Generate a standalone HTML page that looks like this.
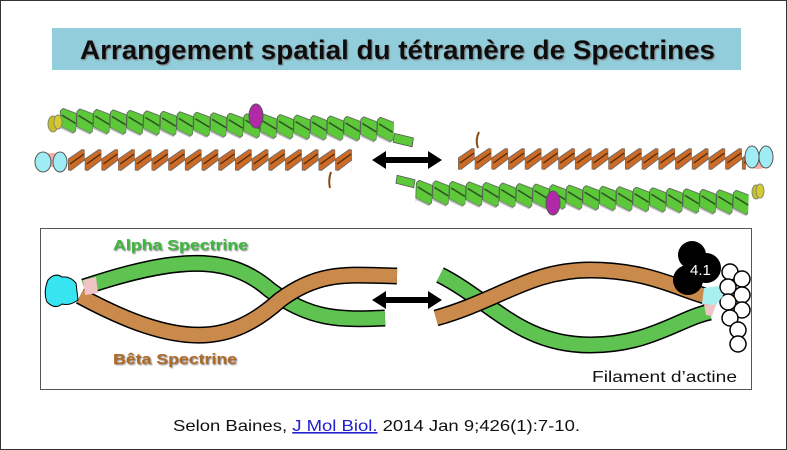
<!DOCTYPE html>
<html><head><meta charset="utf-8"><style>
body{margin:0;background:#fff}
svg{display:block}
text{font-family:"Liberation Sans",sans-serif}
</style></head><body>
<svg width="787" height="450" viewBox="0 0 787 450" xmlns="http://www.w3.org/2000/svg">
<defs>
<pattern id="g" x="60" y="108" width="16.7" height="26" patternUnits="userSpaceOnUse">
<polygon points="0.3,3 3,0.3 16.7,5 16.7,22 14,24.5 0.3,18" fill="#5cc83a" stroke="#555" stroke-width="0.8"/>
<line x1="2" y1="7" x2="16" y2="15" stroke="#2a4a20" stroke-width="1.5"/>
<polygon points="0.3,18 14,24.5 14,26 0.3,20" fill="#bbb"/>
</pattern>
<pattern id="g2" x="416" y="180" width="16.7" height="26" patternUnits="userSpaceOnUse">
<polygon points="0.3,3 3,0.3 16.7,5 16.7,22 14,24.5 0.3,18" fill="#5cc83a" stroke="#555" stroke-width="0.8"/>
<line x1="2" y1="7" x2="16" y2="15" stroke="#2a4a20" stroke-width="1.5"/>
<polygon points="0.3,18 14,24.5 14,26 0.3,20" fill="#bbb"/>
</pattern>
<pattern id="b" x="68" y="149" width="16.7" height="22" patternUnits="userSpaceOnUse">
<polygon points="0.3,10 14,0.5 16.7,1 16.7,11 3,21.5 0.3,21" fill="#cc6a26" stroke="#666" stroke-width="0.8"/>
<line x1="2" y1="15" x2="16" y2="5" stroke="#4a2a10" stroke-width="1.3"/>
</pattern>
<pattern id="b2" x="458" y="148" width="16.7" height="22" patternUnits="userSpaceOnUse">
<polygon points="0.3,10 14,0.5 16.7,1 16.7,11 3,21.5 0.3,21" fill="#cc6a26" stroke="#666" stroke-width="0.8"/>
<line x1="2" y1="15" x2="16" y2="5" stroke="#4a2a10" stroke-width="1.3"/>
</pattern>
<filter id="sh"><feDropShadow dx="1" dy="1" stdDeviation="0.8" flood-color="#777"/></filter>
</defs>
<rect x="0.5" y="0.5" width="786" height="449" fill="#fff" stroke="#333"/>
<rect x="52" y="28" width="689" height="42" fill="#92cddc"/>
<text x="80" y="59" font-size="27" font-weight="bold" fill="#111" filter="url(#sh)" textLength="635" lengthAdjust="spacingAndGlyphs">Arrangement spatial du tétramère de Spectrines</text>

<g transform="rotate(1.6 60 110)">
<rect x="60" y="108" width="334" height="26" fill="url(#g)"/>
<polygon points="395,124 414,128 413,137 394,133" fill="#5cc83a" stroke="#555" stroke-width="0.8"/>
</g>
<ellipse cx="53" cy="124" rx="5" ry="8" fill="#c8c020" stroke="#887"/>
<ellipse cx="58" cy="122" rx="4" ry="7" fill="#d4cc30" stroke="#887"/>
<ellipse cx="256" cy="116" rx="7" ry="12" fill="#b02aa8" stroke="#555"/>
<rect x="68" y="149" width="284" height="22" fill="url(#b)"/>
<ellipse cx="52" cy="160" rx="12" ry="7" fill="#f4b0a8"/>
<ellipse cx="43" cy="162" rx="8" ry="10" fill="#a0ecf4" stroke="#555"/>
<ellipse cx="60" cy="162" rx="7" ry="10" fill="#a0ecf4" stroke="#555"/>
<path d="M331,172 Q328,180 330,188" stroke="#8a4a10" stroke-width="2" fill="none"/>

<polygon points="372,160 386,151 386,157 428,157 428,151 442,160 428,169 428,163 386,163 386,169" fill="#000"/>

<rect x="458" y="148" width="288" height="22" fill="url(#b2)"/>
<path d="M478,148 Q475,140 479,132" stroke="#8a4a10" stroke-width="2" fill="none"/>
<ellipse cx="758" cy="163" rx="10" ry="6" fill="#f4b0a8"/>
<ellipse cx="752" cy="157" rx="7" ry="11" fill="#a0ecf4" stroke="#555"/>
<ellipse cx="766" cy="157" rx="7" ry="11" fill="#a0ecf4" stroke="#555"/>
<g transform="rotate(1.8 420 180)">
<polygon points="397,176 415,180 414,188 396,184" fill="#5cc83a" stroke="#555" stroke-width="0.8"/>
<rect x="416" y="180" width="333" height="26" fill="url(#g2)"/>
</g>
<ellipse cx="756" cy="192" rx="4" ry="7" fill="#c8c020" stroke="#887"/>
<ellipse cx="760" cy="191" rx="4" ry="7" fill="#d4cc30" stroke="#887"/>
<ellipse cx="553" cy="203" rx="7" ry="12" fill="#b02aa8" stroke="#555"/>

<rect x="40.5" y="228.5" width="711" height="161" fill="#fff" stroke="#555"/>
<text x="113" y="250" font-size="15" font-weight="bold" fill="#3cb83c" filter="url(#sh)" textLength="135" lengthAdjust="spacingAndGlyphs">Alpha Spectrine</text>
<text x="113" y="364" font-size="15" font-weight="bold" fill="#b06a22" filter="url(#sh)" textLength="124" lengthAdjust="spacingAndGlyphs">Bêta Spectrine</text>

<g fill="none" stroke-linecap="butt">
<path d="M84,287 C180,255 230,255 270,290 C310,320 340,320 385,318" stroke="#000" stroke-width="17"/>
<path d="M84,287 C180,255 230,255 270,290 C310,320 340,320 385,318" stroke="#5ec350" stroke-width="14"/>
<path d="M80,296 C180,350 230,345 280,300 C320,270 350,275 397,276" stroke="#000" stroke-width="17"/>
<path d="M80,296 C180,350 230,345 280,300 C320,270 350,275 397,276" stroke="#c98a4c" stroke-width="14"/>
</g>
<polygon points="83,280 96,277 98,293 85,295" fill="#f0c4c4"/>
<path d="M48,280 Q55,272 62,277 Q70,276 76,283 L78,300 Q70,306 62,304 Q55,310 47,302 Q43,292 48,280Z" fill="#38e4f0" stroke="#000"/>
<polygon points="372,300 386,291 386,297 428,297 428,291 442,300 428,309 428,303 386,303 386,309" fill="#000"/>

<g fill="none">
<path d="M440,275 C490,300 520,345 590,345 C650,345 680,318 710,312" stroke="#000" stroke-width="17"/>
<path d="M440,275 C490,300 520,345 590,345 C650,345 680,318 710,312" stroke="#5ec350" stroke-width="14"/>
<path d="M436,318 C500,300 530,270 590,270 C650,270 680,290 712,298" stroke="#000" stroke-width="17"/>
<path d="M436,318 C500,300 530,270 590,270 C650,270 680,290 712,298" stroke="#c98a4c" stroke-width="14"/>
</g>
<g fill="#fff" stroke="#000" stroke-width="1.5">
<circle cx="730" cy="272" r="8"/><circle cx="742" cy="279" r="8"/><circle cx="728" cy="287" r="8"/>
<circle cx="742" cy="295" r="8"/><circle cx="728" cy="302" r="8"/><circle cx="742" cy="310" r="8"/>
<circle cx="730" cy="318" r="8"/><circle cx="738" cy="330" r="8"/><circle cx="738" cy="344" r="8"/>
</g>
<polygon points="704,288 718,286 723,296 716,305 702,304" fill="#a8f0f0"/>
<polygon points="704,304 716,305 712,316 706,315" fill="#f0c4c4"/>
<g fill="#000"><circle cx="692" cy="255" r="14"/><circle cx="706" cy="268" r="15"/><circle cx="688" cy="280" r="15"/></g>
<text x="690" y="275" font-size="15" fill="#fff">4.1</text>
<text x="592" y="382" font-size="16" fill="#111" textLength="145" lengthAdjust="spacingAndGlyphs">Filament d’actine</text>

<text x="173" y="431" font-size="16" fill="#111" textLength="407" lengthAdjust="spacingAndGlyphs">Selon Baines, <tspan fill="#2020d0" text-decoration="underline">J Mol Biol.</tspan> 2014 Jan 9;426(1):7-10.</text>
</svg>
</body></html>
